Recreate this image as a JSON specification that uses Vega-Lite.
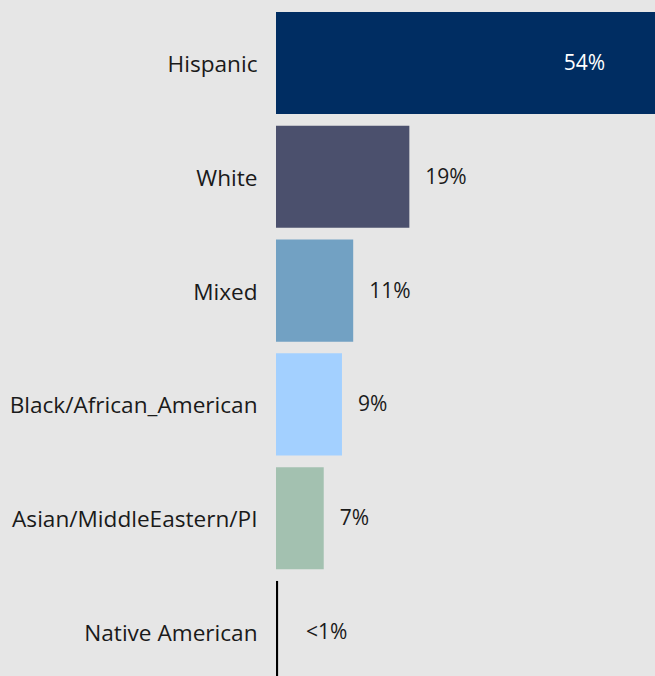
{
  "$schema": "https://vega.github.io/schema/vega-lite/v6.json",
  "width": 379,
  "height": 695,
  "autosize": {"type": "none"},
  "padding": {"left": 276, "top": 0, "right": 0, "bottom": 0},
  "background": "#e6e6e6",
  "config": {"view": {"stroke": null}, "font": "Open Sans"},
  "data": {
    "values": [
      {"group": "Hispanic", "pct": 54, "label": "54%", "color": "#002d62"},
      {"group": "White", "pct": 19, "label": "19%", "color": "#4b506d"},
      {"group": "Mixed", "pct": 11, "label": "11%", "color": "#72a1c3"},
      {"group": "Black/African_American", "pct": 9.4, "label": "9%", "color": "#a3d0ff"},
      {"group": "Asian/MiddleEastern/PI", "pct": 6.8, "label": "7%", "color": "#a3c1b0"},
      {"group": "Native American", "pct": 0.3, "label": "<1%", "color": "#000000"}
    ]
  },
  "encoding": {
    "y": {
      "field": "group",
      "type": "nominal",
      "sort": null,
      "scale": {"paddingInner": 0.103, "paddingOuter": 0.105},
      "axis": {
        "title": null,
        "ticks": false,
        "domain": false,
        "labelFontSize": 22.6,
        "labelColor": "#1a1a1a",
        "labelPadding": 19,
        "labelFont": "Open Sans",
        "labelLimit": 300,
        "labelOffset": 2
      }
    },
    "x": {
      "field": "pct",
      "type": "quantitative",
      "scale": {"domain": [0, 54], "nice": false},
      "axis": null
    }
  },
  "layer": [
    {
      "mark": {"type": "bar"},
      "encoding": {
        "color": {"field": "color", "type": "nominal", "scale": null, "legend": null}
      }
    },
    {
      "transform": [{"filter": "datum.group !== 'Hispanic' && datum.group !== 'Native American'"}],
      "mark": {"type": "text", "align": "left", "dx": 16, "dy": 1, "fontSize": 21, "color": "#1a1a1a"},
      "encoding": {"text": {"field": "label"}}
    },
    {
      "transform": [{"filter": "datum.group === 'Native American'"}],
      "mark": {"type": "text", "align": "left", "dx": 28, "dy": 1, "fontSize": 21, "color": "#1a1a1a"},
      "encoding": {"text": {"field": "label"}}
    },
    {
      "transform": [{"filter": "datum.group === 'Hispanic'"}],
      "mark": {"type": "text", "align": "right", "dx": -50, "dy": 1, "fontSize": 21, "color": "#ffffff"},
      "encoding": {"text": {"field": "label"}}
    }
  ]
}
